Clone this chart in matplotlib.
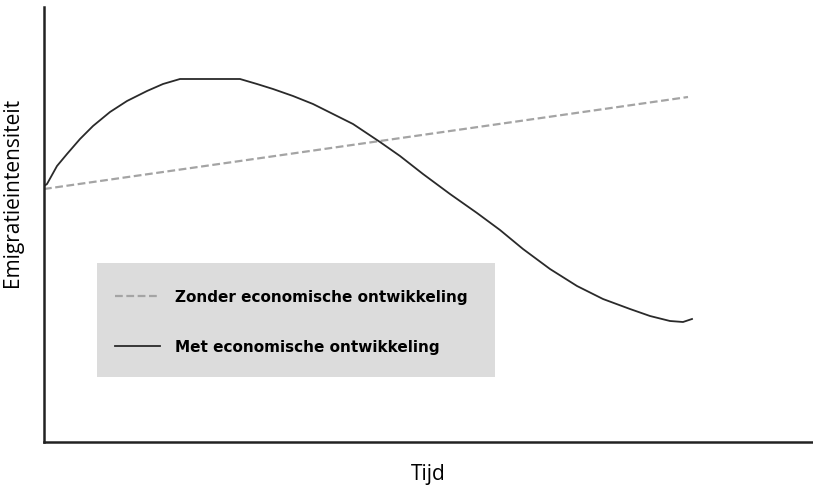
import matplotlib.pyplot as plt
from matplotlib.patches import Rectangle

# waarden (x = tijd, y = emigratie-intensiteit, willekeurige eenheden)
tijd_zonder = [0, 644]
zonder = [253, 345]

tijd_met = [0, 3, 13, 23, 36, 49, 66, 83, 103, 119, 136, 196, 213, 229, 249,
            269, 289, 309, 336, 356, 379, 406, 433, 456, 479, 506, 533, 559,
            586, 606, 626, 639, 648]
met = [256, 258, 276, 288, 303, 316, 330, 341, 351, 358, 363, 363, 358, 353,
       346, 338, 328, 318, 300, 286, 268, 248, 229, 212, 193, 173, 156, 143,
       133, 126, 121, 120, 123]

labels = ['Zonder economische ontwikkeling', 'Met economische ontwikkeling']

plt.rcParams['font.family'] = ['Open Sans', 'DejaVu Sans']

fig = plt.figure(figsize=(8.13, 4.89), dpi=100)
ax = fig.add_axes([44 / 813, 46 / 489, 769 / 813, 435 / 489])

ax.plot(tijd_zonder, zonder, color='#a4a4a4', lw=1.6, dashes=(3.5, 1.6), label=labels[0])
ax.plot(tijd_met, met, color='#2a2a2a', lw=1.3, label=labels[1])

ax.set_xlim(0, 769)
ax.set_ylim(0, 435)
ax.set_xticks([])
ax.set_yticks([])
ax.spines['top'].set_visible(False)
ax.spines['right'].set_visible(False)
for s in ['left', 'bottom']:
    ax.spines[s].set_linewidth(1.8)
    ax.spines[s].set_color('#222222')

ax.set_xlabel('Tijd', fontsize=15, labelpad=15)
ax.set_ylabel('Emigratieintensiteit', fontsize=15)
ax.yaxis.set_label_coords(-0.027, 0.577)

# grijze achtergrond van de legenda
ax.add_patch(Rectangle((0.0689, 0.1494), 0.5176, 0.2621, transform=ax.transAxes,
                       facecolor='#dcdcdc', edgecolor='none', zorder=1))

leg = ax.legend(loc='upper left', bbox_to_anchor=(0.0923, 0.351),
                borderaxespad=0, borderpad=0, frameon=False,
                prop={'weight': 'bold', 'size': 11, 'family': 'DejaVu Sans'},
                handlelength=2.95, handletextpad=1.0, labelspacing=2.3)
leg.set_zorder(3)

fig.savefig('out.png', dpi=100)
